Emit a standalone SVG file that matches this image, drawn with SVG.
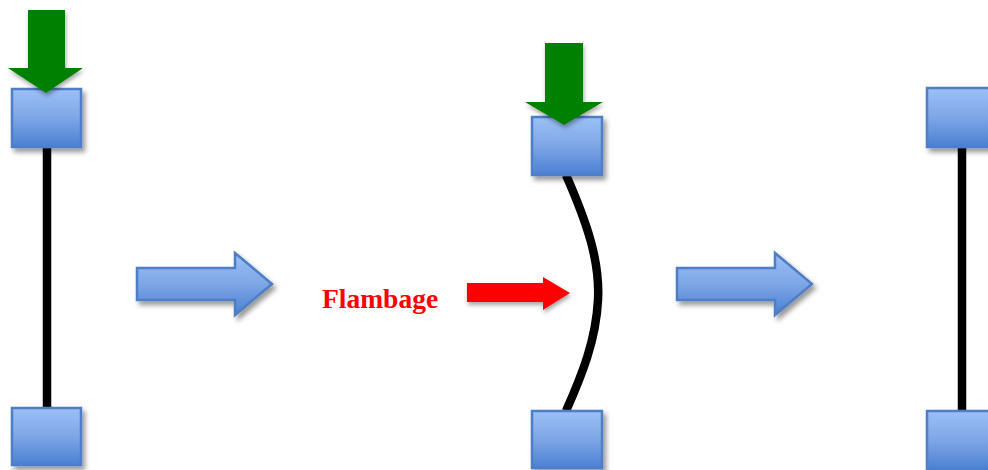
<svg xmlns="http://www.w3.org/2000/svg" width="988" height="470" viewBox="0 0 988 470">
<defs>
<linearGradient id="gb" x1="0" y1="0" x2="0" y2="1">
<stop offset="0" stop-color="#9cc0f7"/>
<stop offset="0.5" stop-color="#7ea6e6"/>
<stop offset="1" stop-color="#4a80d2"/>
</linearGradient>
<filter id="sh" x="-20%" y="-20%" width="150%" height="150%">
<feDropShadow dx="3" dy="4" stdDeviation="2.5" flood-color="#000" flood-opacity="0.4"/>
</filter>
<filter id="sh2" x="-20%" y="-20%" width="150%" height="150%">
<feDropShadow dx="1" dy="3" stdDeviation="2" flood-color="#000" flood-opacity="0.35"/>
</filter>
</defs>
<style>
.box{fill:url(#gb);stroke:#4d7ec6;stroke-width:2.5;filter:url(#sh)}
.barr{fill:url(#gb);stroke:#4d7ec6;stroke-width:2.5;filter:url(#sh)}
.green{fill:#008000;filter:url(#sh2)}
.red{fill:#ff0000;filter:url(#sh2)}
.rod{fill:none;stroke:#000;stroke-width:8.5}
.lbl{font-family:"Liberation Serif",serif;font-weight:bold;font-size:27.5px;fill:#ff0000}
</style>
<g id="connectors">
<line class="rod" x1="47" y1="145" x2="47" y2="410"/>
<path class="rod" d="M566,175 C588,225 600,262 598,300 C596,340 582,375 566,411"/>
<line class="rod" x1="962" y1="145" x2="962" y2="412"/>
</g>
<g id="col1">
<rect class="box" x="12" y="89" width="69" height="58"/>
<rect class="box" x="12" y="408" width="69" height="57"/>
<polygon class="green" points="28,10 65,10 65,68 83,68 46,93 8,68 28,68"/>
</g>
<g id="arrow1">
<polygon class="barr" points="137,268 235,268 235,253 272,284 235,315 235,300 137,300"/>
</g>
<g id="col2">
<rect class="box" x="532" y="117" width="70" height="58"/>
<rect class="box" x="532" y="411" width="70" height="57"/>
<polygon class="green" points="545,43 583,43 583,102 603,102 564,125 525,102 545,102"/>
</g>
<g id="flambage">
<text class="lbl" x="322" y="308">Flambage</text>
<polygon class="red" points="467,283 543,283 543,277 570,293 543,310 543,302 467,302"/>
</g>
<g id="arrow2">
<polygon class="barr" points="677,268 775,268 775,253 812,284 775,315 775,300 677,300"/>
</g>
<g id="col3">
<rect class="box" x="927" y="88" width="69" height="59"/>
<rect class="box" x="927" y="411" width="69" height="59"/>
</g>
</svg>
